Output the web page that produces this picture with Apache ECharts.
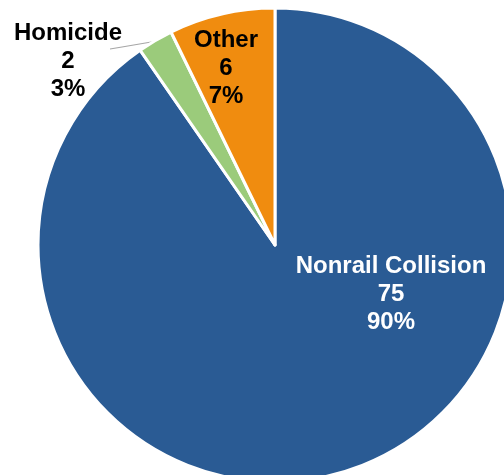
<!DOCTYPE html>
<html>
<head>
<meta charset="utf-8">
<script src="https://cdn.jsdelivr.net/npm/echarts@6/dist/echarts.min.js"></script>
<style>html,body{margin:0;padding:0;background:#fff;}#c{width:504px;height:475px;}</style>
</head>
<body>
<div id="c"></div>
<script>
var categories = ['Nonrail Collision', 'Homicide', 'Other'];
var values = [75, 2, 6];
var percents = ['90%', '3%', '7%'];

var colors = ['#2A5B94', '#9BCB7B', '#F08C0F'];
var labelColors = ['#ffffff', '#000000', '#000000'];
var labelPos = [{x: 391, y: 294}, {x: 68, y: 61}, {x: 226, y: 68}];

var data = categories.map(function (c, i) {
  return {
    name: c,
    value: values[i],
    itemStyle: {color: colors[i]},
    label: {color: labelColors[i], position: i === 1 ? 'outside' : 'inside'},
    labelLine: {show: i === 1}
  };
});

var chart = echarts.init(document.getElementById('c'), null, {renderer: 'canvas'});
chart.setOption({
  animation: false,
  series: [{
    type: 'pie',
    center: [275, 245],
    radius: [0, 237],
    startAngle: 90,
    clockwise: true,
    itemStyle: {borderColor: '#ffffff', borderWidth: 3},
    label: {
      show: true,
      fontFamily: 'Liberation Sans, Arial, sans-serif',
      fontWeight: 'bold',
      fontSize: 24,
      lineHeight: 28,
      align: 'center',
      formatter: function (p) { return p.name + '\n' + p.value + '\n' + percents[p.dataIndex]; }
    },
    labelLine: {lineStyle: {color: '#A6A6A6', width: 1.2}, length: 10, length2: 20},
    labelLayout: function (p) {
      var pos = labelPos[p.dataIndex];
      var o = {x: pos.x, y: pos.y, align: 'center', verticalAlign: 'middle'};
      if (p.dataIndex === 1 && p.labelLinePoints) {
        var s = p.labelLinePoints[0];
        o.labelLinePoints = [[s[0] - 1, s[1] + 1], [122, 47], [110, 49]];
      }
      return o;
    },
    data: data
  }]
});
</script>
</body>
</html>
